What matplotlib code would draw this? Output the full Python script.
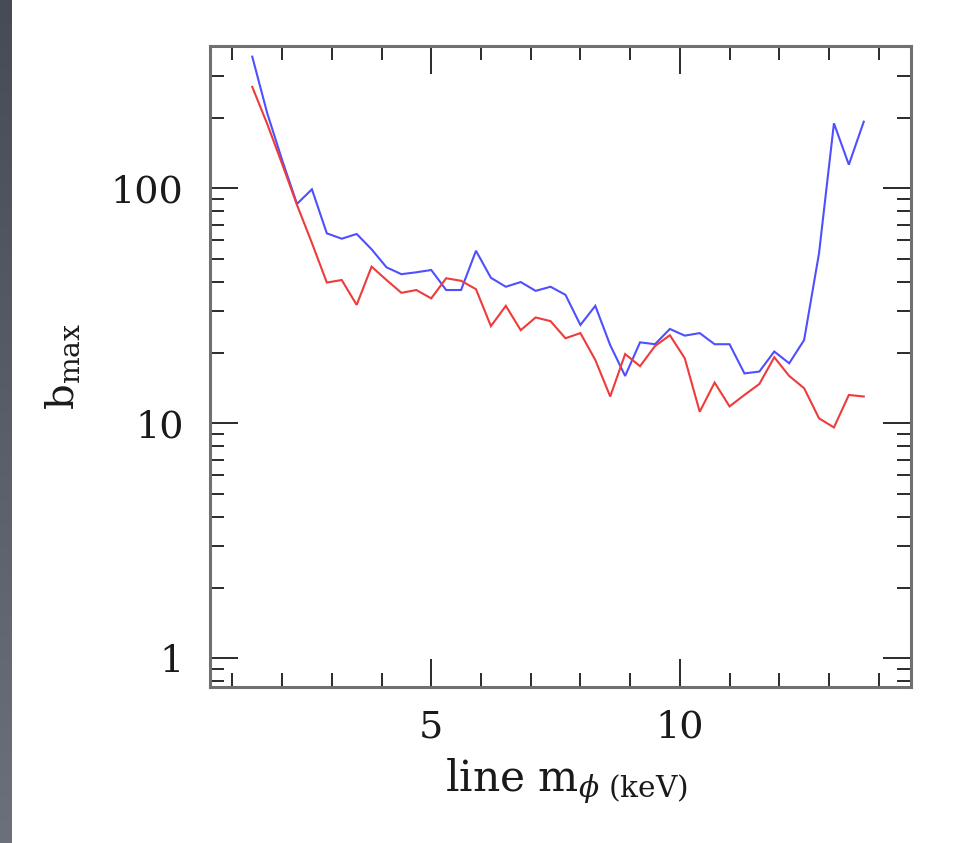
import numpy as np
import matplotlib
matplotlib.use("Agg")
import matplotlib.pyplot as plt
from matplotlib.ticker import FixedLocator, FixedFormatter, NullFormatter
from matplotlib.colors import LinearSegmentedColormap

# line mass (keV)
m_phi = [1.4, 1.7, 2.0, 2.3, 2.6, 2.9, 3.2, 3.5, 3.8, 4.1, 4.4, 4.7, 5.0, 5.3,
         5.6, 5.9, 6.2, 6.5, 6.8, 7.1, 7.4, 7.7, 8.0, 8.3, 8.6, 8.9, 9.2, 9.5,
         9.8, 10.1, 10.4, 10.7, 11.0, 11.3, 11.6, 11.9, 12.2, 12.5, 12.8, 13.1,
         13.4, 13.7]

# maximum boost, blue curve
b_max_blue = [363, 209, 132, 85.8, 99.0, 64.3, 61.0, 63.9, 55.0, 46.1, 43.1,
              43.9, 44.9, 36.9, 36.9, 54.2, 41.6, 38.1, 39.9, 36.6, 38.1, 35.2,
              26.2, 31.6, 21.5, 15.9, 22.1, 21.7, 25.2, 23.6, 24.2, 21.7, 21.7,
              16.3, 16.6, 20.2, 18.0, 22.6, 52.9, 189, 126, 192]

# maximum boost, red curve
b_max_red = [270, 188, 127, 84.9, 58.5, 39.7, 40.7, 31.9, 46.4, 40.7, 35.9,
             36.9, 34.0, 41.4, 40.4, 37.2, 25.9, 31.6, 24.9, 28.2, 27.2, 23.0,
             24.2, 18.6, 13.0, 19.7, 17.5, 21.3, 23.7, 18.9, 11.2, 14.9, 11.8,
             13.2, 14.7, 19.1, 15.9, 14.1, 10.5, 9.6, 13.2, 13.0]

x_major = [5, 10]
x_major_labels = ["5", "10"]
x_minor = [1, 2, 3, 4, 6, 7, 8, 9, 11, 12, 13, 14]
y_major = [1, 10, 100]
y_major_labels = ["1", "10", "100"]

plt.rcParams["font.family"] = ["DejaVu Serif"]
plt.rcParams["mathtext.fontset"] = "dejavuserif"

W, H = 964, 843
fig = plt.figure(figsize=(W / 100, H / 100), dpi=100)
fig.patch.set_facecolor("white")

# dark strip along the left edge
strip = fig.add_axes([0, 0, 12 / W, 1])
grad = np.linspace(0, 1, 256).reshape(-1, 1)
cmap = LinearSegmentedColormap.from_list("strip", ["#464b56", "#6c707a"])
strip.imshow(grad, aspect="auto", cmap=cmap, extent=[0, 1, 0, 1], origin="upper")
strip.set_axis_off()

left, right, top, bottom = 210, 911, 46, 687
ax = fig.add_axes([left / W, 1 - bottom / H, (right - left) / W, (bottom - top) / H])

ax.plot(m_phi, b_max_blue, color="#4f4fff", lw=1.5, solid_joinstyle="miter")
ax.plot(m_phi, b_max_red, color="#ee3b3b", lw=1.5, solid_joinstyle="miter")

ax.set_yscale("log")
ax.set_xlim(0.55, 14.65)
ax.set_ylim(0.755, 403)

ax.xaxis.set_major_locator(FixedLocator(x_major))
ax.xaxis.set_major_formatter(FixedFormatter(x_major_labels))
ax.xaxis.set_minor_locator(FixedLocator(x_minor))
ax.xaxis.set_minor_formatter(NullFormatter())

y_minor = [s * d for d in (0.1, 1, 10, 100) for s in range(2, 10)]
ax.yaxis.set_major_locator(FixedLocator(y_major))
ax.yaxis.set_major_formatter(FixedFormatter(y_major_labels))
ax.yaxis.set_minor_locator(FixedLocator(y_minor))
ax.yaxis.set_minor_formatter(NullFormatter())

for sp in ax.spines.values():
    sp.set_color("#707070")
    sp.set_linewidth(2.2)

ax.tick_params(which="both", direction="in", top=True, right=True,
               color="#2a2a2a", width=1.4, labelsize=27.5, labelcolor="#1a1a1a")
ax.tick_params(which="major", length=20)
ax.tick_params(which="minor", length=10)
ax.tick_params(axis="y", which="major", pad=19)
ax.tick_params(axis="x", which="major", pad=16)

ax.set_xlabel(r"line m$_{\phi\ \mathrm{(keV)}}$", fontsize=30.5, color="#1a1a1a")
ax.set_ylabel(r"b$_{\mathrm{max}}$", fontsize=29, color="#1a1a1a")
ax.xaxis.set_label_coords(0.509, -0.108)
ax.yaxis.set_label_coords(-0.183, 0.5)

fig.savefig("out.png", dpi=100, facecolor="white")
